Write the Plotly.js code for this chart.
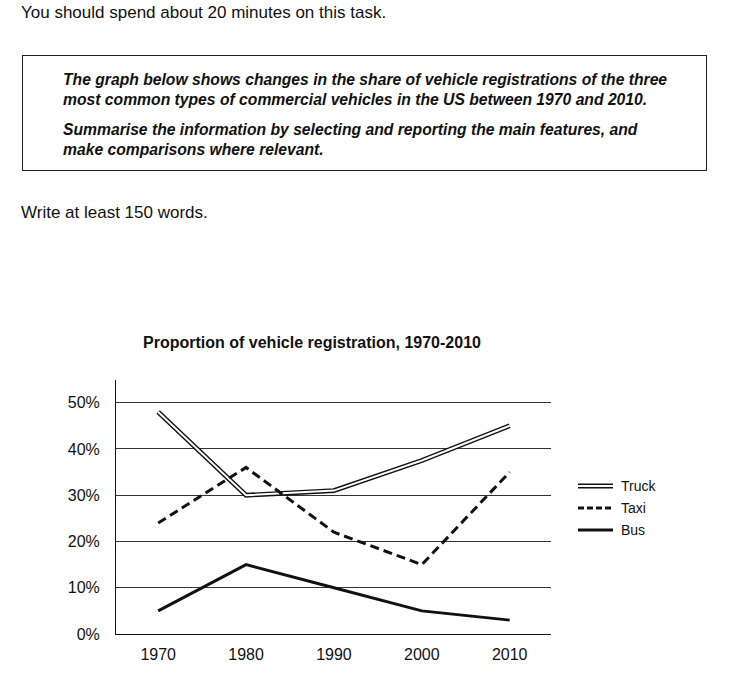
<!DOCTYPE html>
<html>
<head>
<meta charset="utf-8">
<script src="https://cdn.plot.ly/plotly-3.0.1.min.js"></script>
<style>
  body { margin: 0; background: #fff; font-family: "Liberation Sans", Arial, sans-serif; color: #111; }
  #page { position: relative; width: 748px; height: 687px; overflow: hidden; }
  #chart { position: absolute; left: 0; top: 0; width: 748px; height: 687px; }
  .txt { position: absolute; font-size: 17px; line-height: 20px; white-space: nowrap; }
  #task-box {
    position: absolute; left: 22px; top: 55px; width: 685px; height: 116px;
    box-sizing: border-box; border: 1px solid #222;
    padding: 14px 0 0 40px;
    font-size: 15.7px; line-height: 20px; font-weight: bold; font-style: italic;
    white-space: nowrap;
  }
  #task-box p { margin: 0 0 10px 0; }
</style>
</head>
<body>
<div id="page">
  <div id="chart"></div>
  <div class="txt" style="left:21px; top:3px;">You should spend about 20 minutes on this task.</div>
  <div id="task-box">
    <p>The graph below shows changes in the share of vehicle registrations of the three<br>most common types of commercial vehicles in the US between 1970 and 2010.</p>
    <p>Summarise the information by selecting and reporting the main features, and<br>make comparisons where relevant.</p>
  </div>
  <div class="txt" style="left:21px; top:203px;">Write at least 150 words.</div>
</div>
<script>
// share of vehicle registrations (%)
const years = [1970, 1980, 1990, 2000, 2010];
const truck = [48, 30, 31, 37.5, 45];
const taxi = [24, 36, 22, 15, 35];
const bus = [5, 15, 10, 5, 3];
const yTicks = [0, 10, 20, 30, 40, 50];
const seriesNames = ["Truck", "Taxi", "Bus"];

// plot area in page pixels
const W = 748, H = 687;
const plotL = 116, plotR = 551, plotT = 380, plotB = 634;

// page pixel -> paper coords (for the hand drawn legend)
function px2x(px) { return (px - plotL) / (plotR - plotL); }
function px2y(py) { return (plotB - py) / (plotB - plotT); }

const traces = [
  // truck drawn as a double line: thick black with a thin white core
  { x: years, y: truck, mode: "lines", type: "scatter", line: { color: "#111", width: 4.8 }, hoverinfo: "skip" },
  { x: years, y: truck, mode: "lines", type: "scatter", line: { color: "#fff", width: 2 }, name: seriesNames[0] },
  { x: years, y: taxi, mode: "lines", type: "scatter", line: { color: "#111", width: 3, dash: "9px,5px" }, name: seriesNames[1] },
  { x: years, y: bus, mode: "lines", type: "scatter", line: { color: "#111", width: 3 }, name: seriesNames[2] }
];

// manual legend (the truck double line can't be shown by the built-in legend)
const legendY = [486, 508, 530];
const shapes = [];
const annotations = [];
legendY.forEach((py, i) => {
  const base = { type: "line", xref: "paper", yref: "paper", x0: px2x(578), x1: px2x(613), y0: px2y(py), y1: px2y(py) };
  if (i === 0) {
    shapes.push(Object.assign({}, base, { line: { color: "#111", width: 4.8 } }));
    shapes.push(Object.assign({}, base, { line: { color: "#fff", width: 2 } }));
  } else if (i === 1) {
    shapes.push(Object.assign({}, base, { line: { color: "#111", width: 3, dash: "6px,3px" } }));
  } else {
    shapes.push(Object.assign({}, base, { line: { color: "#111", width: 3 } }));
  }
  annotations.push({
    xref: "paper", yref: "paper", x: px2x(619), y: px2y(py),
    xanchor: "left", yanchor: "middle", showarrow: false,
    text: seriesNames[i], font: { size: 14, color: "#111" }
  });
});

const layout = {
  width: W,
  height: H,
  margin: { l: plotL, r: W - plotR, t: plotT, b: H - plotB, pad: 0 },
  paper_bgcolor: "rgba(0,0,0,0)",
  plot_bgcolor: "rgba(0,0,0,0)",
  font: { family: "Liberation Sans, Arial, sans-serif", color: "#111" },
  title: {
    text: "<b>Proportion of vehicle registration, 1970-2010</b>",
    font: { size: 16, color: "#111" },
    x: 312 / W, xanchor: "center", xref: "container",
    y: 1 - 342 / H, yanchor: "middle", yref: "container"
  },
  showlegend: false,
  xaxis: {
    range: [1965.2, 2014.7],
    tickvals: years,
    ticktext: years.map(String),
    ticks: "",
    ticklabelstandoff: 6,
    showgrid: false,
    zeroline: false,
    showline: true,
    linecolor: "#111",
    linewidth: 1,
    tickfont: { size: 16, color: "#111" },
    fixedrange: true
  },
  yaxis: {
    range: [0, 54.9],
    tickvals: yTicks,
    ticktext: yTicks.map(v => v + "%"),
    ticks: "",
    ticklabelstandoff: 12,
    showgrid: true,
    gridcolor: "#333",
    gridwidth: 1,
    zeroline: false,
    showline: true,
    linecolor: "#111",
    linewidth: 1,
    tickfont: { size: 16, color: "#111" },
    fixedrange: true
  },
  shapes: shapes,
  annotations: annotations
};

Plotly.newPlot("chart", traces, layout, { displayModeBar: false, staticPlot: true });
</script>
</body>
</html>
